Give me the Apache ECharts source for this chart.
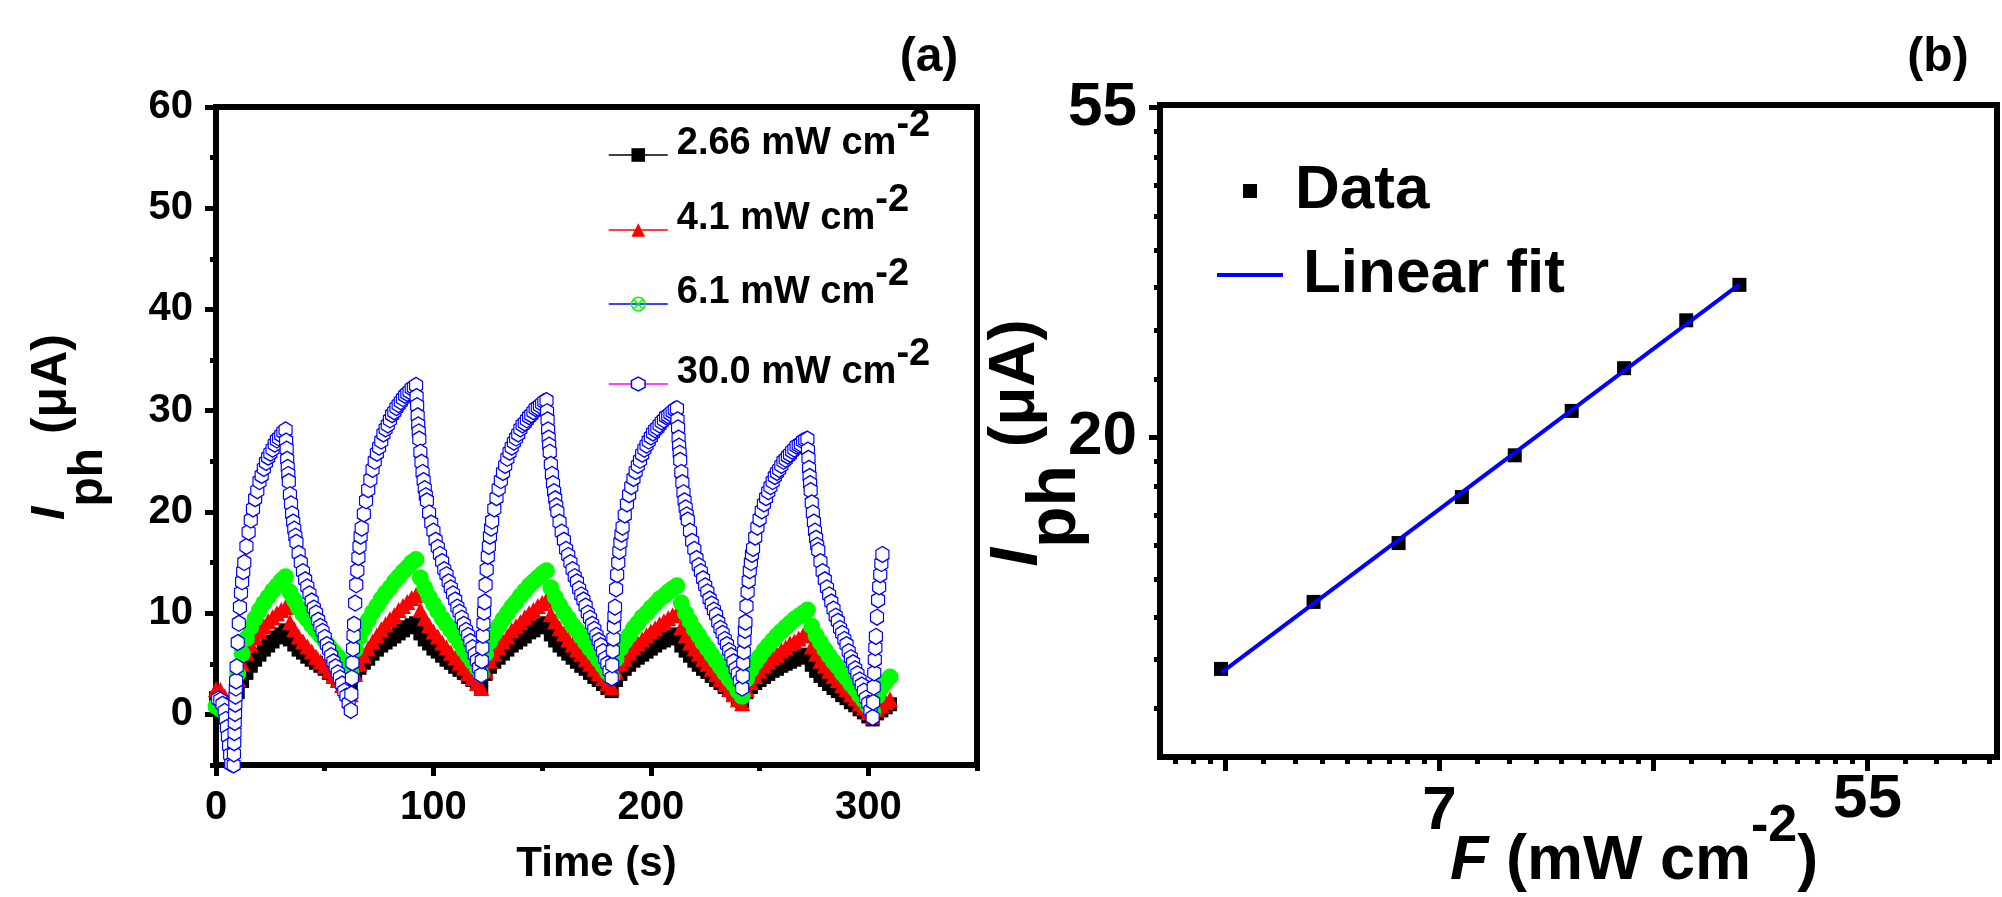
<!DOCTYPE html>
<html>
<head>
<meta charset="utf-8">
<script src="https://cdn.jsdelivr.net/npm/echarts@6/dist/echarts.min.js"></script>
<style>
  html, body { margin: 0; padding: 0; background: #fff; }
  #chart { width: 2002px; height: 897px; }
</style>
</head>
<body>
<div id="chart"></div>
<script>
// Photocurrent under chopped illumination (a) and its power-law dependence on intensity (b)
const FONT = "'Liberation Sans', Arial, sans-serif";

// ---------- (a) photocurrent vs time ----------
// three lower intensities, sampled every 2 s
const timeS = [0,2,4,6,8,10,12,14,16,18,20,22,24,26,28,30,32,34,36,38,40,42,44,46,48,50,52,54,56,58,60,62,
  64,66,68,70,72,74,76,78,80,82,84,86,88,90,92,94,96,98,100,102,104,106,108,110,112,114,116,118,120,122,
  124,126,128,130,132,134,136,138,140,142,144,146,148,150,152,154,156,158,160,162,164,166,168,170,172,174,176,178,180,182,
  184,186,188,190,192,194,196,198,200,202,204,206,208,210,212,214,216,218,220,222,224,226,228,230,232,234,236,238,240,242,
  244,246,248,250,252,254,256,258,260,262,264,266,268,270,272,274,276,278,280,282,284,286,288,290,292,294,296,298,300,302,
  304,306,308,310];

// 2.66 mW cm-2 (uA)
const i266 = [1.6,1.3,1.0,0.8,0.7,
  2.2,3.3,4.1,4.8,5.4,5.9,6.4,6.8,7.2,7.6,7.9,8.3,
  7.4,6.9,6.4,6.1,5.7,5.4,5.1,4.8,4.5,4.1,3.8,3.5,3.2,2.9,2.6,
  3.9,4.6,5.1,5.5,6.0,6.4,6.8,7.1,7.4,7.7,8.0,8.3,8.6,8.8,9.0,
  8.0,7.4,7.0,6.5,6.2,5.8,5.4,5.1,4.7,4.4,4.1,3.7,3.4,3.0,2.7,
  4.0,4.7,5.2,5.6,6.0,6.4,6.8,7.1,7.4,7.7,8.1,8.3,8.6,8.8,9.0,
  7.9,7.3,6.8,6.4,6.0,5.6,5.2,4.8,4.5,4.1,3.7,3.4,3.0,2.6,2.3,
  3.4,4.0,4.5,4.9,5.3,5.6,5.9,6.2,6.5,6.8,7.1,7.3,7.5,7.7,7.9,
  6.8,6.3,5.8,5.3,4.9,4.5,4.2,3.8,3.4,3.1,2.7,2.4,2.0,1.6,1.3,
  2.2,2.7,3.1,3.4,3.7,4.0,4.3,4.5,4.8,5.0,5.2,5.4,5.6,5.8,5.9,
  4.9,4.3,3.8,3.4,3.0,2.6,2.3,1.9,1.6,1.2,0.9,0.5,0.2,-0.2,-0.5,
  0.1,0.4,0.7,1.0];

// 4.1 mW cm-2 (uA)
const i41 = [2.5,2.4,1.8,1.3,1.0,
  3.5,5.0,6.1,6.9,7.6,8.2,8.7,9.2,9.6,10.0,10.3,10.6,
  9.1,8.4,7.7,7.2,6.7,6.2,5.7,5.2,4.8,4.3,3.8,3.4,2.9,2.4,2.0,
  4.0,5.0,5.8,6.5,7.2,7.8,8.4,8.9,9.4,9.8,10.3,10.7,11.1,11.5,11.8,
  10.3,9.5,8.8,8.2,7.7,7.1,6.6,6.1,5.6,5.1,4.6,4.1,3.6,3.1,2.6,
  4.3,5.3,6.0,6.6,7.2,7.7,8.3,8.7,9.1,9.6,10.0,10.3,10.7,11.0,11.3,
  9.9,9.2,8.5,8.0,7.4,6.9,6.4,6.0,5.5,5.0,4.5,4.1,3.6,3.1,2.7,
  4.2,5.0,5.5,6.1,6.6,7.0,7.4,7.8,8.2,8.5,8.9,9.2,9.5,9.8,10.0,
  8.6,7.8,7.1,6.5,6.0,5.5,5.0,4.5,4.0,3.5,3.0,2.5,2.0,1.5,1.1,
  2.5,3.2,3.8,4.3,4.8,5.2,5.6,5.9,6.3,6.6,7.0,7.2,7.5,7.8,8.0,
  6.7,6.0,5.3,4.8,4.3,3.8,3.4,2.9,2.5,2.0,1.6,1.1,0.7,0.2,-0.2,
  0.5,0.9,1.2,1.5];

// 6.1 mW cm-2 (uA)
const i61 = [0.8,0.5,0.2,-0.1,-0.3,
  4.0,6.0,7.5,8.6,9.5,10.3,11.0,11.6,12.2,12.7,13.2,13.6,
  12.1,11.3,10.5,9.9,9.4,8.8,8.3,7.8,7.3,6.7,6.2,5.7,5.2,4.7,4.2,
  6.4,7.6,8.5,9.3,10.1,10.7,11.4,12.0,12.5,13.1,13.6,14.1,14.5,15.0,15.3,
  13.5,12.5,11.6,10.9,10.2,9.5,8.9,8.3,7.7,7.1,6.4,5.8,5.2,4.6,4.0,
  6.0,7.2,8.0,8.7,9.4,10.0,10.6,11.1,11.7,12.2,12.7,13.1,13.5,13.9,14.2,
  12.5,11.6,10.8,10.1,9.5,8.8,8.3,7.7,7.1,6.5,6.0,5.4,4.8,4.2,3.7,
  5.5,6.5,7.2,7.8,8.5,9.0,9.6,10.0,10.5,10.9,11.4,11.7,12.1,12.4,12.7,
  11.0,10.0,9.2,8.4,7.8,7.1,6.5,5.9,5.3,4.7,4.1,3.5,3.0,2.3,1.8,
  3.5,4.4,5.1,5.7,6.3,6.8,7.3,7.8,8.2,8.6,9.0,9.4,9.7,10.0,10.3,
  8.7,7.8,7.1,6.4,5.8,5.2,4.7,4.1,3.6,3.0,2.5,1.9,1.4,0.8,0.3,
  1.8,2.6,3.2,3.7];

// 30.0 mW cm-2, [time (s), current (uA)]; denser sampling on the fast edges
const i300 = [
  [1,1.5],[2,1.4],[3,1.0],[4,0.3],[4.5,-0.5],[5,-1.3],[5.5,-2.2],[6,-3.1],[6.5,-4.0],[7,-4.9],[7.5,-5.6],[8,-6.0],
  [8.125,-5.0],[8.25,-3.9],[8.375,-2.8],[8.5,-1.8],[8.625,-0.8],[8.75,0.1],[8.875,1.0],[9,1.8],[9.125,2.6],[9.25,3.3],[9.5,4.7],
  [10,7.1],[10.5,9.0],[11,10.6],[11.5,12.0],[12,13.1],[12.5,14.1],[13,15.0],[14,16.6],[15,18.0],[16,19.2],[17,20.3],[18,21.3],
  [19,22.1],[20,23.0],[21,23.6],[22,24.3],[23,24.9],[24,25.4],[25,25.8],[26,26.2],[27,26.7],[28,27.1],[29,27.3],[30,27.6],[31,27.9],[32,28.1],
  [32.25,27.0],[32.5,26.2],[32.75,25.2],[33,24.4],[33.25,23.7],[33.5,23.0],[34,21.7],[34.5,20.8],[35,19.8],[35.5,19.0],[36,18.3],[36.5,17.6],
  [37,17.0],[38,15.9],[39,15.0],[40,14.1],[41,13.3],[42,12.6],[43,11.9],[44,11.2],[45,10.5],[46,10.0],[47,9.3],[48,8.7],[49,8.2],[50,7.6],
  [51,6.9],[52,6.4],[53,5.8],[54,5.2],[55,4.7],[56,4.1],[57,3.6],[58,3.0],[59,2.3],[60,1.8],[61,1.1],[62,0.4],
  [62.25,2.0],[62.5,3.6],[62.75,5.1],[63,6.5],[63.25,7.8],[63.5,8.9],[64,11.0],[64.5,12.8],[65,14.2],[65.5,15.5],[66,16.6],[66.5,17.6],
  [67,18.4],[68,19.8],[69,21.1],[70,22.2],[71,23.2],[72,24.2],[73,25.0],[74,25.8],[75,26.4],[76,27.0],[77,27.7],[78,28.2],[79,28.6],
  [80,29.1],[81,29.6],[82,29.9],[83,30.3],[84,30.6],[85,30.9],[86,31.2],[87,31.5],[88,31.7],[89,31.9],[90,32.2],[91,32.3],[92,32.5],
  [92.25,31.4],[92.5,30.5],[92.75,29.5],[93,28.6],[93.25,27.9],[93.5,27.2],[94,25.9],[94.5,24.9],[95,23.9],[95.5,23.1],[96,22.3],[96.5,21.6],
  [97,21.1],[98,19.9],[99,18.9],[100,18.1],[101,17.2],[102,16.5],[103,15.8],[104,15.1],[105,14.3],[106,13.8],[107,13.1],[108,12.5],
  [109,11.9],[110,11.3],[111,10.6],[112,10.1],[113,9.5],[114,8.9],[115,8.3],[116,7.8],[117,7.2],[118,6.6],[119,5.9],[120,5.3],[121,4.6],[122,3.9],
  [122.25,5.3],[122.5,6.6],[122.75,7.8],[123,9.0],[123.25,10.1],[123.5,11.1],[124,12.8],[124.5,14.3],[125,15.6],[125.5,16.6],[126,17.6],[126.5,18.4],
  [127,19.1],[128,20.3],[129,21.4],[130,22.3],[131,23.1],[132,23.9],[133,24.6],[134,25.3],[135,25.9],[136,26.4],[137,26.9],[138,27.3],
  [139,27.7],[140,28.2],[141,28.6],[142,28.8],[143,29.1],[144,29.4],[145,29.6],[146,29.9],[147,30.2],[148,30.3],[149,30.5],[150,30.7],[151,30.9],[152,31.0],
  [152.25,29.9],[152.5,29.1],[152.75,28.1],[153,27.3],[153.25,26.6],[153.5,25.9],[154,24.7],[154.5,23.7],[155,22.8],[155.5,22.0],[156,21.3],[156.5,20.6],
  [157,20.0],[158,19.0],[159,18.0],[160,17.2],[161,16.3],[162,15.7],[163,15.0],[164,14.3],[165,13.6],[166,13.1],[167,12.4],[168,11.8],
  [169,11.3],[170,10.7],[171,10.0],[172,9.5],[173,8.9],[174,8.4],[175,7.8],[176,7.3],[177,6.8],[178,6.2],[179,5.5],[180,5.0],[181,4.3],[182,3.6],
  [182.25,4.9],[182.5,6.3],[182.75,7.5],[183,8.7],[183.25,9.7],[183.5,10.6],[184,12.4],[184.5,13.8],[185,15.0],[185.5,16.1],[186,17.0],[186.5,17.8],
  [187,18.5],[188,19.7],[189,20.8],[190,21.7],[191,22.5],[192,23.3],[193,24.0],[194,24.6],[195,25.1],[196,25.7],[197,26.2],[198,26.6],
  [199,27.0],[200,27.4],[201,27.8],[202,28.1],[203,28.3],[204,28.6],[205,28.9],[206,29.1],[207,29.4],[208,29.5],[209,29.7],[210,29.9],[211,30.1],[212,30.2],
  [212.25,29.1],[212.5,28.3],[212.75,27.3],[213,26.5],[213.25,25.8],[213.5,25.1],[214,23.9],[214.5,22.9],[215,21.9],[215.5,21.1],[216,20.4],[216.5,19.7],
  [217,19.2],[218,18.1],[219,17.1],[220,16.3],[221,15.4],[222,14.7],[223,14.1],[224,13.4],[225,12.7],[226,12.1],[227,11.4],[228,10.9],
  [229,10.3],[230,9.8],[231,9.1],[232,8.5],[233,8.0],[234,7.4],[235,6.9],[236,6.3],[237,5.8],[238,5.2],[239,4.5],[240,4.0],[241,3.3],[242,2.6],
  [242.25,3.8],[242.5,5.1],[242.75,6.2],[243,7.3],[243.25,8.3],[243.5,9.1],[244,10.7],[244.5,12.1],[245,13.2],[245.5,14.2],[246,15.0],[246.5,15.8],
  [247,16.4],[248,17.5],[249,18.5],[250,19.3],[251,20.1],[252,20.8],[253,21.4],[254,22.0],[255,22.5],[256,23.0],[257,23.5],[258,23.9],
  [259,24.2],[260,24.6],[261,25.0],[262,25.2],[263,25.5],[264,25.7],[265,26.0],[266,26.2],[267,26.5],[268,26.6],[269,26.7],[270,27.0],[271,27.1],[272,27.2],
  [272.25,26.1],[272.5,25.3],[272.75,24.3],[273,23.5],[273.25,22.8],[273.5,22.1],[274,20.9],[274.5,19.9],[275,19.0],[275.5,18.1],[276,17.4],[276.5,16.7],
  [277,16.2],[278,15.1],[279,14.1],[280,13.3],[281,12.5],[282,11.8],[283,11.1],[284,10.4],[285,9.7],[286,9.2],[287,8.5],[288,8.0],
  [289,7.4],[290,6.9],[291,6.2],[292,5.6],[293,5.1],[294,4.5],[295,4.0],[296,3.4],[297,2.9],[298,2.3],[299,1.6],[300,1.1],[301,0.4],[302,-0.3],
  [302.25,1.2],[302.5,2.7],[302.75,4.1],[303,5.4],[303.25,6.6],[303.5,7.7],[304,9.6],[304.5,11.3],[305,12.6],[305.5,13.8],[306,14.9],[306.5,15.8]
];

const timeTicks = [0, 100, 200, 300];
const timeMinorTicks = [50, 150, 250, 350];
const currentTicks = [0, 10, 20, 30, 40, 50, 60];
const currentMinorTicks = [-5, 5, 15, 25, 35, 45, 55];

// ---------- (b) photocurrent vs intensity (natural-log axes) ----------
const intensity    = [2.66, 4.1, 6.1, 8.2, 10.5, 13.7, 17.5, 23.4, 30.0];   // mW cm-2
const photocurrent = [9.93, 12.17, 14.55, 16.73, 18.99, 21.73, 24.74, 28.61, 31.86]; // uA
const fitIntensity = [2.66, 30.0];
const fitCurrent   = [9.81, 31.9];

const lnMajorX = [1, 2, 3, 4].map(Math.exp);       // e, e^2, e^3, e^4
const lnLabelX = [2, 4].map(Math.exp);              // labelled 7 and 55
const lnMajorY = [3, 4].map(Math.exp);              // labelled 20 and 55
// minor ticks: eight evenly spaced values between consecutive powers of e
function minorBetween(k0, k1) {
  const out = [];
  for (let k = k0; k < k1; k++) {
    const a = Math.exp(k), b = Math.exp(k + 1);
    for (let j = 1; j <= 8; j++) out.push(a + (b - a) * j / 9);
  }
  return out;
}
const lnMinorX = minorBetween(0, 5);
const lnMinorY = minorBetween(2, 4);

// ---------- shared styles ----------
const black = '#000';
const tickLabel = (size) => ({ color: black, fontFamily: FONT, fontWeight: 'bold', fontSize: size });
const thickLine = { onZero: false, lineStyle: { color: black, width: 6 } };
const noLine = { show: false, onZero: false };

const hexagon = 'path://M6.5,0L13,4L13,12L6.5,16L0,12L0,4Z';
const crossedCircle = 'path://M10,0A10,10,0,1,1,10,20A10,10,0,1,1,10,0ZM2.9,2.9L17.1,17.1M17.1,2.9L2.9,17.1';

function bandSeries(name, values, symbol, size, color) {
  return {
    type: 'line', name, xAxisIndex: 0, yAxisIndex: 0,
    data: timeS.map((t, i) => [t, values[i]]),
    symbol, symbolSize: size, showSymbol: true,
    itemStyle: { color, borderColor: color, borderWidth: 0, opacity: 1 },
    lineStyle: { opacity: 0, color },
    silent: true
  };
}

const legendRich = {
  b: { fontSize: 38, fontWeight: 'bold', fontFamily: FONT, color: black, lineHeight: 40, verticalAlign: 'bottom' },
  s: { fontSize: 38, fontWeight: 'bold', fontFamily: FONT, color: black, lineHeight: 40, verticalAlign: 'bottom', padding: [0, 0, 18, 0] }
};
const legendRowsA = [
  { name: '2.66', top: 107, line: '#000000', item: { color: '#000000', borderWidth: 0, opacity: 1 } },
  { name: '4.1',  top: 182, line: '#ff0000', item: { color: '#ff0000', borderWidth: 0, opacity: 1 } },
  { name: '6.1',  top: 256, line: '#0000ff', item: { color: 'rgba(0,0,0,0)', borderColor: '#00ff00', borderWidth: 1.5, opacity: 1 } },
  { name: '30.0', top: 336, line: '#ff00ff', item: { color: '#ffffff', borderColor: '#0000ff', borderWidth: 1.5, opacity: 1 } }
];

const legends = legendRowsA.map(r => ({
  left: 608, top: r.top, orient: 'vertical', padding: 0,
  itemWidth: 59, itemHeight: 17, selectedMode: false,
  data: [{ name: r.name, lineStyle: { color: r.line, width: 1.5, opacity: 1, type: 'solid' }, itemStyle: r.item }],
  formatter: n => `{b|${n} mW cm}{s|-2}`,
  textStyle: { color: black, fontFamily: FONT, fontWeight: 'bold', fontSize: 38, padding: [0, 0, 24, 4], rich: legendRich }
}));
legends.push({
  left: 1243, top: 160, padding: 0, itemWidth: 14, itemHeight: 14, selectedMode: false,
  data: [{ name: 'Data', itemStyle: { color: black, opacity: 1 } }],
  textStyle: { color: black, fontFamily: FONT, fontWeight: 'bold', fontSize: 62, padding: [0, 0, 24, 33] }
});
legends.push({
  left: 1217, top: 244, padding: 0, itemWidth: 66, itemHeight: 4, selectedMode: false,
  data: [{ name: 'Linear fit', icon: 'rect', itemStyle: { color: '#0000ff', opacity: 1 } }],
  textStyle: { color: black, fontFamily: FONT, fontWeight: 'bold', fontSize: 62, padding: [0, 0, 24, 15] }
});

// rotated y-axis titles: I with subscript "ph", then (μA)
function currentTitle(x, y, big, small, sub, lh) {
  return {
    type: 'text', x, y, rotation: Math.PI / 2,
    style: { text: '{i|I}{p|ph}{u| (μA)}', align: 'center', verticalAlign: 'middle', fontFamily: FONT, fill: black,
      rich: {
        i: { fontSize: big, fontStyle: 'italic', fontWeight: 'bold', fontFamily: FONT, fill: black, lineHeight: lh, verticalAlign: 'top' },
        p: { fontSize: big, fontWeight: 'bold', fontFamily: FONT, fill: black, lineHeight: lh, verticalAlign: 'top', padding: [sub, 0, 0, 0] },
        u: { fontSize: small, fontWeight: 'bold', fontFamily: FONT, fill: black, lineHeight: lh, verticalAlign: 'top' }
      } }
  };
}

const option = {
  animation: false,
  backgroundColor: '#fff',
  textStyle: { fontFamily: FONT },
  grid: [
    { left: 216, top: 107, width: 761, height: 658, show: true, borderColor: black, borderWidth: 6, containLabel: false, outerBoundsMode: 'none' },
    { left: 1160, top: 105, width: 837, height: 652, show: true, borderColor: black, borderWidth: 6, containLabel: false, outerBoundsMode: 'none' }
  ],
  xAxis: [
    { type: 'value', gridIndex: 0, position: 'bottom', min: 0, max: 350,
      axisLine: thickLine, splitLine: { show: false },
      axisTick: { customValues: timeTicks, length: 11, lineStyle: { color: black, width: 5 } },
      axisLabel: Object.assign({ customValues: timeTicks, margin: 23 }, tickLabel(40)),
      name: 'Time (s)', nameLocation: 'middle', nameGap: 78,
      nameTextStyle: { color: black, fontFamily: FONT, fontWeight: 'bold', fontSize: 42, verticalAlign: 'top' } },
    { type: 'value', gridIndex: 0, position: 'bottom', offset: 0, min: 0, max: 350,
      axisLine: noLine, splitLine: { show: false }, axisLabel: { show: false },
      axisTick: { customValues: timeMinorTicks, length: 6, lineStyle: { color: black, width: 5 } } },
    { type: 'log', logBase: Math.E, gridIndex: 1, position: 'bottom', min: 2, max: 100,
      axisLine: thickLine, splitLine: { show: false }, minorTick: { show: false },
      axisTick: { customValues: lnMajorX, length: 14, lineStyle: { color: black, width: 5 } },
      axisLabel: Object.assign({
        customValues: lnLabelX, margin: 12,
        formatter: v => Math.round(v) === 55 ? '{h|55}' : '{n|' + Math.round(v) + '}',
        rich: { h: tickLabel(62), n: Object.assign({ padding: [12, 0, 0, 0] }, tickLabel(62)) }
      }, tickLabel(62)) },
    { type: 'log', logBase: Math.E, gridIndex: 1, position: 'bottom', offset: 0, min: 2, max: 100,
      axisLine: noLine, splitLine: { show: false }, axisLabel: { show: false },
      axisTick: { customValues: lnMinorX, length: 7, lineStyle: { color: black, width: 5 } } }
  ],
  yAxis: [
    { type: 'value', gridIndex: 0, position: 'left', min: -5, max: 60,
      axisLine: thickLine, splitLine: { show: false },
      axisTick: { customValues: currentTicks, length: 11, lineStyle: { color: black, width: 5 } },
      axisLabel: Object.assign({ customValues: currentTicks, margin: 23 }, tickLabel(40)) },
    { type: 'value', gridIndex: 0, position: 'left', offset: 0, min: -5, max: 60,
      axisLine: noLine, splitLine: { show: false }, axisLabel: { show: false },
      axisTick: { customValues: currentMinorTicks, length: 6, lineStyle: { color: black, width: 5 } } },
    { type: 'log', logBase: Math.E, gridIndex: 1, position: 'left', min: 7.6, max: 55,
      axisLine: thickLine, splitLine: { show: false }, minorTick: { show: false },
      axisTick: { customValues: lnMajorY, length: 11, lineStyle: { color: black, width: 5 } },
      axisLabel: Object.assign({ customValues: lnMajorY, margin: 23, formatter: v => String(Math.round(v)) }, tickLabel(62)) },
    { type: 'log', logBase: Math.E, gridIndex: 1, position: 'left', offset: 0, min: 7.6, max: 55,
      axisLine: noLine, splitLine: { show: false }, axisLabel: { show: false },
      axisTick: { customValues: lnMinorY, length: 6, lineStyle: { color: black, width: 5 } } }
  ],
  legend: legends,
  series: [
    bandSeries('2.66', i266, 'rect', 14, '#000000'),
    bandSeries('4.1', i41, 'triangle', 16, '#ff0000'),
    bandSeries('6.1', i61, crossedCircle, 17, '#00ff00'),
    { type: 'line', name: '30.0', xAxisIndex: 0, yAxisIndex: 0, data: i300,
      symbol: hexagon, symbolSize: [13, 16], showSymbol: true,
      itemStyle: { color: '#ffffff', borderColor: '#0000ff', borderWidth: 1.3, opacity: 1 },
      lineStyle: { opacity: 0, color: '#ff00ff' }, silent: true },
    { type: 'scatter', name: 'Data', xAxisIndex: 2, yAxisIndex: 2,
      data: intensity.map((x, i) => [x, photocurrent[i]]),
      symbol: 'rect', symbolSize: 14, itemStyle: { color: black, opacity: 1 }, silent: true },
    { type: 'line', name: 'Linear fit', xAxisIndex: 2, yAxisIndex: 2,
      data: fitIntensity.map((x, i) => [x, fitCurrent[i]]),
      symbol: 'none', showSymbol: false,
      itemStyle: { color: '#0000ff' }, lineStyle: { color: '#0000ff', width: 4 }, silent: true }
  ],
  graphic: [
    { type: 'text', x: 929, y: 58, style: { text: '(a)', fontSize: 48, fontWeight: 'bold', fontFamily: FONT, fill: black, align: 'center', verticalAlign: 'middle' } },
    { type: 'text', x: 1938, y: 58, style: { text: '(b)', fontSize: 48, fontWeight: 'bold', fontFamily: FONT, fill: black, align: 'center', verticalAlign: 'middle' } },
    currentTitle(50, 427, 48, 50, 38, 46),
    currentTitle(1014, 443, 68, 64, 38, 60),
    { type: 'text', x: 1450, y: 861,
      style: { text: '{f|F}{t| (mW cm}{s|-2}{t|)}', align: 'left', verticalAlign: 'middle', fontFamily: FONT, fill: black,
        rich: {
          f: { fontSize: 63, fontStyle: 'italic', fontWeight: 'bold', fontFamily: FONT, fill: black, lineHeight: 64, verticalAlign: 'bottom' },
          t: { fontSize: 63, fontWeight: 'bold', fontFamily: FONT, fill: black, lineHeight: 64, verticalAlign: 'bottom' },
          s: { fontSize: 52, fontWeight: 'bold', fontFamily: FONT, fill: black, lineHeight: 52, verticalAlign: 'bottom', padding: [0, 0, 40, 0] }
        } } }
  ]
};

const chart = echarts.init(document.getElementById('chart'), null, { renderer: 'canvas' });
chart.setOption(option);
</script>
</body>
</html>
